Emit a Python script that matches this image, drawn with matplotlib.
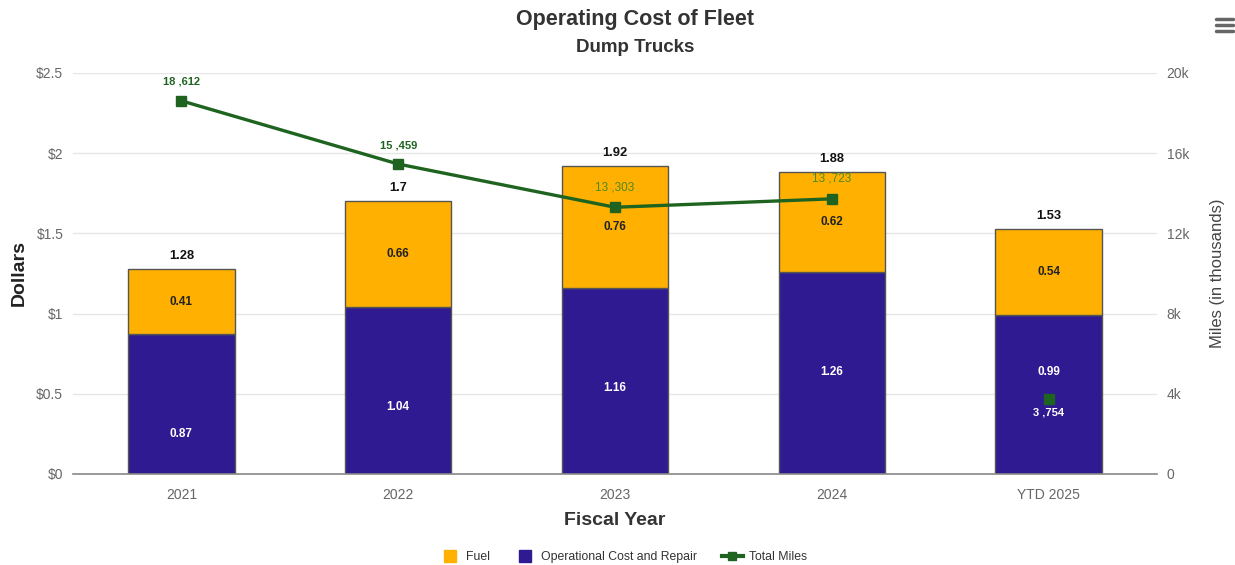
import matplotlib
matplotlib.use("Agg")
import matplotlib.pyplot as plt
from matplotlib.lines import Line2D

plt.rcParams['font.family'] = ['Liberation Sans', 'DejaVu Sans']

categories = ["2021", "2022", "2023", "2024", "YTD 2025"]
operational = [0.87, 1.04, 1.16, 1.26, 0.99]
fuel = [0.41, 0.66, 0.76, 0.62, 0.54]
totals = [1.28, 1.7, 1.92, 1.88, 1.53]
miles = [18612, 15459, 13303, 13723, 3754]
miles_labels = ["18 ,612", "15 ,459", "13 ,303", "13 ,723", "3 ,754"]
y_ticks = [0, 0.5, 1, 1.5, 2, 2.5]
y_ticklabels = ["$0", "$0.5", "$1", "$1.5", "$2", "$2.5"]
y2_ticks = [0, 4000, 8000, 12000, 16000, 20000]
y2_ticklabels = ["0", "4k", "8k", "12k", "16k", "20k"]

# label placement (style): offset in points below the top of the operational segment
op_label_offsets = [-72, -72, -72, -72, -41]

c_fuel = "#FFB000"
c_op = "#2F1A91"
c_line = "#1E6420"
c_tick = "#666666"

fig = plt.figure(figsize=(12.35, 5.65), dpi=100)
ax = fig.add_axes([73 / 1235, 0.1611, 1084 / 1235, 0.7097])
x = list(range(len(categories)))
w = 0.49

ax.bar(x, operational, width=w, color=c_op, edgecolor="#555555", linewidth=1, zorder=2)
ax.bar(x, fuel, width=w, bottom=operational, color=c_fuel, edgecolor="#555555", linewidth=1, zorder=2)

for i in x:
    ax.annotate(f"{operational[i]:.2f}", (i, operational[i]), xytext=(0, op_label_offsets[i]),
                textcoords="offset points", ha="center", va="center",
                color="white", fontsize=8.5, fontweight="bold", zorder=5)
    ax.text(i, operational[i] + fuel[i] / 2, f"{fuel[i]:.2f}", ha="center", va="center",
            color="#222222", fontsize=8.5, fontweight="bold", zorder=5)
    ax.annotate(f"{totals[i]:g}", (i, operational[i] + fuel[i]), xytext=(0, 5),
                textcoords="offset points", ha="center", va="bottom",
                color="#111111", fontsize=9.3, fontweight="bold", zorder=5)

ax.set_xlim(-0.5, len(categories) - 0.5)
ax.set_ylim(0, 2.5)
ax.set_yticks(y_ticks)
ax.set_yticklabels(y_ticklabels)
ax.set_xticks(x)
ax.set_xticklabels(categories)
ax.tick_params(axis="both", colors=c_tick, labelsize=10, length=0)
ax.tick_params(axis="y", pad=7)
ax.tick_params(axis="x", pad=10)
ax.grid(axis="y", color="#e6e6e6", linewidth=1, zorder=0)
ax.set_axisbelow(True)
for s in ["top", "right", "left"]:
    ax.spines[s].set_visible(False)
ax.spines["bottom"].set_color("#888888")
ax.spines["bottom"].set_linewidth(1.2)
ax.set_ylabel("Dollars", fontsize=14, fontweight="bold", color="#222222", labelpad=6)
ax.set_xlabel("Fiscal Year", fontsize=14, fontweight="bold", color="#333333", labelpad=7)

ax2 = ax.twinx()
ax2.set_ylim(0, 20000)
ax2.set_yticks(y2_ticks)
ax2.set_yticklabels(y2_ticklabels)
ax2.tick_params(axis="y", colors=c_tick, labelsize=10, length=0, pad=7)
for s in ["top", "right", "left", "bottom"]:
    ax2.spines[s].set_visible(False)
ax2.set_ylabel("Miles (in thousands)", fontsize=12, color="#444444", labelpad=15)

ax2.plot(x[:4], miles[:4], color=c_line, linewidth=2.4, marker="s", markersize=7, zorder=4)
ax2.plot([x[4]], [miles[4]], color=c_line, linestyle="none", marker="s", markersize=7, zorder=4)
for i in x:
    if i < 2:
        ax2.annotate(miles_labels[i], (i, miles[i]), xytext=(0, 10), textcoords="offset points",
                     ha="center", va="bottom", color=c_line, fontsize=8, fontweight="bold", zorder=6)
    elif i < 4:
        ax2.annotate(miles_labels[i], (i, miles[i]), xytext=(0, 10), textcoords="offset points",
                     ha="center", va="bottom", color="#4C8A1C", fontsize=8.5, zorder=6)
    else:
        ax2.annotate(miles_labels[i], (i, miles[i]), xytext=(0, -6), textcoords="offset points",
                     ha="center", va="top", color="white", fontsize=8, fontweight="bold", zorder=6)

fig.text(635 / 1235, 1 - 19 / 565, "Operating Cost of Fleet", ha="center", va="center",
         fontsize=15.5, fontweight="bold", color="#333333")
fig.text(635 / 1235, 1 - 48 / 565, "Dump Trucks", ha="center", va="center",
         fontsize=13.5, fontweight="bold", color="#333333")

# menu icon
for dy in (19, 25, 31):
    fig.add_artist(Line2D([1216 / 1235, 1233 / 1235], [1 - dy / 565, 1 - dy / 565],
                          color="#666666", linewidth=2.5, solid_capstyle="round"))

handles = [
    Line2D([], [], linestyle="none", marker="s", markersize=8, markerfacecolor=c_fuel, markeredgecolor=c_fuel),
    Line2D([], [], linestyle="none", marker="s", markersize=8, markerfacecolor=c_op, markeredgecolor=c_op),
    Line2D([], [], color=c_line, linewidth=3, marker="s", markersize=6),
]
fig.legend(handles, ["Fuel", "Operational Cost and Repair", "Total Miles"], loc="center",
           bbox_to_anchor=(623 / 1235, 1 - 557 / 565), ncol=3, frameon=False, fontsize=8.8,
           handlelength=1.7, columnspacing=2.0, handletextpad=0.5, labelcolor="#333333")

fig.savefig("out.png", dpi=100)
